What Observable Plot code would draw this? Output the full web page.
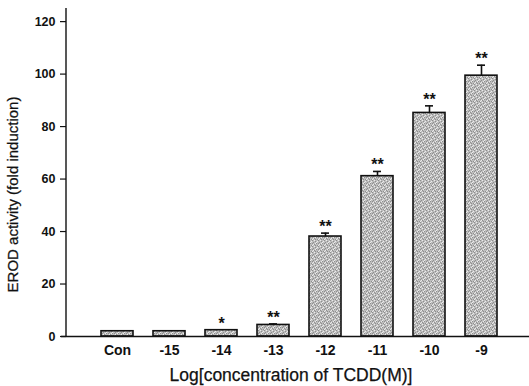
<!DOCTYPE html>
<html>
<head>
<meta charset="utf-8">
<script src="https://cdn.jsdelivr.net/npm/d3@7"></script>
<script src="https://cdn.jsdelivr.net/npm/@observablehq/plot@0.6"></script>
<style>
  html, body { margin: 0; padding: 0; background: #fff; }
  svg { font-family: "Liberation Sans", Arial, sans-serif; }
</style>
</head>
<body>
<div id="chart"></div>
<script>
const categories = ["Con", "-15", "-14", "-13", "-12", "-11", "-10", "-9"];
const values     = [2.0, 2.0, 2.4, 4.4, 38.1, 61.1, 85.2, 99.4];
const errors     = [0, 0, 0, 0.4, 1.3, 1.8, 2.7, 4.0];
const signif     = ["", "", "*", "**", "**", "**", "**", "**"];
const yTicks     = [0, 20, 40, 60, 80, 100, 120];

const data = categories.map((c, i) => ({
  cat: c, value: values[i], hi: values[i] + errors[i], sig: signif[i]
}));

const plot = Plot.plot({
  width: 529,
  height: 386,
  marginLeft: 66,
  marginRight: 0,
  marginTop: 8,
  marginBottom: 50,
  style: { fontFamily: "Liberation Sans, Arial, sans-serif", background: "#fff", overflow: "visible" },
  x: { domain: categories, paddingInner: 0.385, paddingOuter: 0.64, align: 0.52, label: null },
  y: { domain: [0, 125], label: null },
  marks: [
    Plot.barY(data, { x: "cat", y: "value", fill: "url(#speckle)", stroke: "#111", strokeWidth: 1.6 }),
    Plot.ruleX(data.filter(d => d.hi > d.value), { x: "cat", y1: "value", y2: "hi", stroke: "#111", strokeWidth: 1.6 }),
    Plot.tickY(data.filter(d => d.hi > d.value), { x: "cat", y: "hi", stroke: "#111", strokeWidth: 1.6, inset: 12 }),
    Plot.text(data, { x: "cat", y: "hi", text: "sig", dy: -1, lineAnchor: "bottom", fontSize: 16, fontWeight: "bold", fill: "#111" }),
    Plot.ruleY([0], { stroke: "#111", strokeWidth: 1.4, insetLeft: -5 }),
    Plot.axisY({ ticks: yTicks, tickSize: 6, tickPadding: 5, fontSize: 12.5, fontWeight: "bold", tickFormat: d => d, stroke: "#111", fill: "#111", strokeWidth: 1.2, label: null }),
    Plot.axisX({ tickSize: 0, tickPadding: 9, fontSize: 14, fontWeight: "bold", fill: "#111", label: null }),
    Plot.text(["Log[concentration of TCDD(M)]"], { frameAnchor: "bottom", dy: 44, dx: -7, fontSize: 17.5, fill: "#111", stroke: "#111", strokeWidth: 0.25, lineAnchor: "bottom" }),
    Plot.text(["EROD activity (fold induction)"], { frameAnchor: "left", textAnchor: "middle", dx: -53, dy: 22, rotate: -90, fontSize: 15, fill: "#111", stroke: "#111", strokeWidth: 0.25 })
  ]
});

// speckled texture for bar fill
const svg = d3.select(plot);
const defs = svg.insert("defs", ":first-child");
const pat = defs.append("pattern").attr("id", "speckle").attr("patternUnits", "userSpaceOnUse")
  .attr("width", 6).attr("height", 6);
pat.append("rect").attr("width", 6).attr("height", 6).attr("fill", "#bdbdbd");
const dark = [[0,0],[3,1],[1,2],[4,3],[2,4],[5,5],[0,3],[3,5]];
const light = [[2,0],[5,1],[0,5],[4,2],[1,4],[3,3]];
dark.forEach(([x, y]) => pat.append("rect").attr("x", x).attr("y", y).attr("width", 1).attr("height", 1).attr("fill", "#8e8e8e"));
light.forEach(([x, y]) => pat.append("rect").attr("x", x).attr("y", y).attr("width", 1).attr("height", 1).attr("fill", "#ebebeb"));

// y axis line
const ys = plot.scale("y");
svg.append("line")
  .attr("x1", 66).attr("x2", 66)
  .attr("y1", ys.apply(125)).attr("y2", ys.apply(0))
  .attr("stroke", "#111").attr("stroke-width", 1.4);

document.getElementById("chart").appendChild(plot);
</script>
</body>
</html>
